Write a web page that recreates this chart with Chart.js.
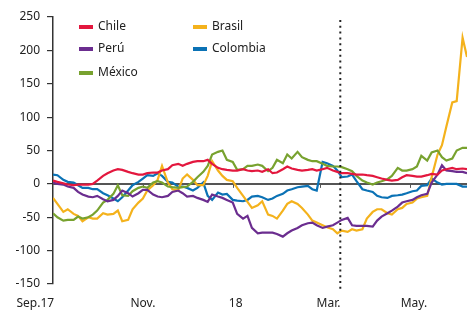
<!DOCTYPE html>
<html>
<head>
<meta charset="utf-8">
<script src="https://cdn.jsdelivr.net/npm/chart.js@4"></script>
<style>
html, body { margin: 0; padding: 0; background: #fff; }
</style>
</head>
<body>
<canvas id="myChart" width="470" height="312"></canvas>
<script>
// days since 1 Sep 2017
var days = [0,3,7,10,14,17,20,24,27,30,34,37,41,44,47,51,54,58,61,64,
    68,71,74,78,81,85,88,91,95,98,102,105,108,112,115,118,122,125,129,132,
    135,139,142,146,149,152,156,159,162,166,169,173,176,179,183,186,190,193,196,200,
    203,206,210,213,217,220,223,227,230,234,237,240,244,247,250,254,257,261,264,267,
    271,274,278,281];

var chile = [5,3,1,-1,-2,-1,-1,-1,0,5,
    12,16,20,22,21,18,16,14,14,16,
    17,17,20,22,28,30,27,30,33,34,
    34,36,30,24,22,21,20,20,22,20,
    19,20,18,22,16,17,22,26,23,21,
    20,21,22,20,22,24,20,18,16,16,
    15,14,14,13,12,10,8,6,5,6,
    10,13,12,11,11,13,15,14,20,22,
    24,22,23,22];
var peru = [2,0,-1,-4,-6,-12,-16,-19,-20,-18,
    -23,-26,-24,-18,-10,-14,-19,-14,-9,-9,
    -16,-19,-20,-18,-12,-10,-14,-19,-18,-21,
    -24,-27,-16,-19,-21,-24,-28,-45,-52,-48,
    -66,-74,-73,-73,-73,-75,-79,-74,-70,-66,
    -62,-59,-58,-62,-66,-64,-62,-58,-54,-51,
    -62,-63,-63,-63,-64,-55,-49,-44,-40,-34,
    -28,-26,-24,-20,-17,-15,2,14,28,20,
    19,18,18,16];
var mexico = [-44,-50,-55,-54,-54,-49,-52,-50,-46,-40,
    -28,-24,-15,-2,-17,-18,-11,-6,-4,-6,
    2,4,2,-4,-5,-6,-5,-4,3,10,
    18,27,44,48,50,36,33,21,22,27,
    27,29,27,19,24,36,31,44,38,48,
    40,36,34,34,30,27,26,26,25,22,
    19,12,5,2,-1,2,4,7,12,24,
    20,20,22,26,42,35,47,50,40,35,
    38,50,54,54];
var brasil = [-21,-30,-42,-38,-45,-48,-56,-50,-52,-52,
    -44,-46,-45,-40,-56,-54,-38,-28,-22,-10,
    -2,6,27,2,-8,-10,8,14,6,-2,
    -2,12,34,20,12,6,4,-6,-18,-27,
    -36,-32,-26,-46,-48,-52,-40,-30,-26,-30,
    -36,-46,-55,-58,-62,-65,-68,-74,-70,-72,
    -68,-70,-68,-52,-42,-38,-38,-44,-46,-38,
    -36,-30,-28,-22,-20,-18,10,44,58,86,
    122,124,219,190];
var colombia = [14,13,6,3,2,-2,-6,-6,-8,-8,
    -14,-17,-22,-26,-20,-10,-2,3,8,13,
    12,16,12,3,2,-4,-4,-6,-10,-6,
    2,-18,-24,-13,-16,-15,-24,-25,-26,-24,
    -19,-18,-20,-24,-22,-18,-15,-10,-8,-5,
    -4,-3,-8,-10,33,31,27,20,10,11,
    14,4,-8,-10,-12,-18,-20,-21,-18,-17,
    -16,-14,-11,-10,-3,-2,8,2,-1,0,
    0,0,-4,-4];

var xLabels = ["Sep.17", "Nov.", "18", "Mar.", "May."];
var xLabelDays = [-12, 61, 124, 187, 245];
var monthTickDays = [61, 122, 181, 242];
var markerDay = 195;

var names = ["Chile", "Perú", "México", "Brasil", "Colombia"];
var colors = ["#e3173e", "#6b2d8f", "#78a22f", "#f4b21c", "#0b72b5"];
var seriesList = [chile, peru, mexico, brasil, colombia];

function pts(vals){
    return vals.map(function(v, i){ return {x: days[i], y: v}; });
}

var FONT = "12px 'Noto Sans'";

var extras = {
    id: 'extras',
    beforeDatasetsDraw: function(chart){
        var c = chart.ctx, xs = chart.scales.x, ys = chart.scales.y;
        var y0 = ys.getPixelForValue(0);
        c.save();
        c.strokeStyle = '#555';
        c.lineWidth = 2;
        c.beginPath();
        c.moveTo(chart.chartArea.left, y0);
        c.lineTo(chart.chartArea.right, y0);
        c.stroke();
        c.lineWidth = 1;
        monthTickDays.forEach(function(d){
            var x = Math.round(xs.getPixelForValue(d)) + 0.5;
            c.beginPath();
            c.moveTo(x, y0);
            c.lineTo(x, y0 + 4);
            c.stroke();
        });
        c.restore();
    },
    afterDatasetsDraw: function(chart){
        var c = chart.ctx, xs = chart.scales.x;
        c.save();
        // dotted marker
        var mx = xs.getPixelForValue(markerDay);
        c.strokeStyle = '#222';
        c.lineWidth = 2;
        c.setLineDash([2, 3.8]);
        c.beginPath();
        c.moveTo(mx, 20);
        c.lineTo(mx, 289);
        c.stroke();
        c.setLineDash([]);
        // x labels
        c.font = FONT;
        c.fillStyle = '#222';
        c.textAlign = 'center';
        c.textBaseline = 'alphabetic';
        xLabels.forEach(function(t, i){
            c.fillText(t, xs.getPixelForValue(xLabelDays[i]), 307);
        });
        // legend, two columns
        var pos = [[79, 27], [79, 49], [79, 73], [193, 27], [193, 49]];
        c.textAlign = 'left';
        c.textBaseline = 'middle';
        names.forEach(function(n, i){
            c.fillStyle = colors[i];
            c.fillRect(pos[i][0], pos[i][1] - 2, 14, 4);
            c.fillStyle = '#222';
            c.fillText(n, pos[i][0] + 19, pos[i][1]);
        });
        c.restore();
    }
};

var ctx = document.getElementById('myChart').getContext('2d');
var myChart = new Chart(ctx, {
    type: 'line',
    data: {
        datasets: seriesList.map(function(s, i){
            return {
                label: names[i],
                data: pts(s),
                borderColor: colors[i],
                backgroundColor: colors[i],
                borderWidth: 2.2,
                pointRadius: 0,
                tension: 0,
                fill: false
            };
        })
    },
    options: {
        responsive: false,
        animation: false,
        devicePixelRatio: 1,
        layout: { padding: { top: 17, right: 3, left: 0, bottom: 0 } },
        plugins: { legend: { display: false }, tooltip: { enabled: false } },
        scales: {
            x: {
                type: 'linear',
                min: 0,
                max: 281,
                grid: { display: false },
                border: { display: false },
                ticks: { display: false },
                afterFit: function(s){ s.height = 28; }
            },
            y: {
                min: -150,
                max: 250,
                ticks: {
                    stepSize: 50,
                    padding: 7,
                    color: '#222',
                    font: { family: 'Noto Sans', size: 12 }
                },
                grid: { drawOnChartArea: false, drawTicks: true, tickLength: 6, color: '#333', lineWidth: 1.2 },
                border: { display: true, color: '#333', width: 1.5 },
                afterFit: function(s){ s.width = 53; }
            }
        }
    },
    plugins: [extras]
});
</script>
</body>
</html>
